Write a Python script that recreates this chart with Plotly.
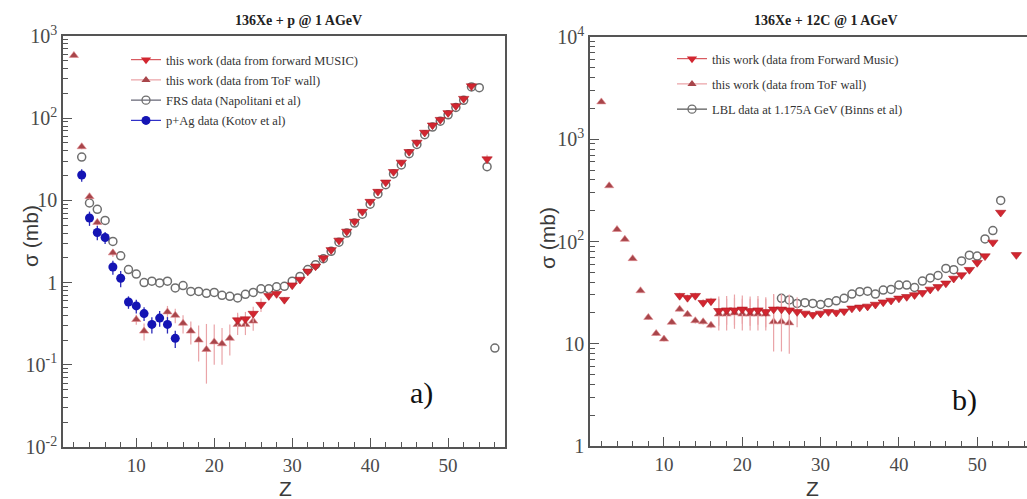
import plotly.graph_objects as go

# ---------------- 136Xe + p @ 1 AGeV ----------------
z_music_p = [23, 24, 25, 26, 27, 28, 29, 30, 31, 32, 33, 34, 35, 36, 37, 38, 39, 40,
             41, 42, 43, 44, 45, 46, 47, 48, 49, 50, 51, 52, 53, 55]
sig_music_p = [0.35, 0.36, 0.42, 0.54, 0.69, 0.73, 0.62, 0.93, 1.09, 1.37, 1.58, 1.99, 2.5,
               3.26, 4.19, 5.53, 7.31, 9.67, 12.8, 16.6, 22.3, 29.0, 39.0, 50.7, 67.0, 82.0,
               96.0, 116.0, 141.0, 173.0, 246.0, 31.8]
err_music_p = [0.08, 0.08, 0.09, 0.1, 0.08, 0.06, 0.05, 0.05, 0.05, 0.05, 0.05, 0.06, 0.07,
               0.08, 0.1, 0.12, 0.15, 0.2, 0.25, 0.3, 0.4, 0.5, 0.7, 0.9, 1.2, 1.5, 1.8, 2.2,
               2.6, 3.2, 5.0, 4.0]

z_tof_p = [2, 3, 4, 5, 7, 10, 11, 14, 15, 16, 17, 18, 19, 20, 21, 22, 23, 24, 25]
sig_tof_p = [580.0, 45.0, 11.1, 5.4, 2.3, 0.356, 0.257, 0.44, 0.40, 0.32, 0.257, 0.20, 0.154,
             0.19, 0.18, 0.21, 0.31, 0.31, 0.34]
err_up_tof_p = [20.0, 3.0, 1.0, 0.6, 0.25, 0.05, 0.06, 0.08, 0.08, 0.08, 0.08, 0.10, 0.16,
                0.12, 0.10, 0.10, 0.10, 0.08, 0.08]
err_dn_tof_p = [20.0, 3.0, 1.0, 0.6, 0.25, 0.05, 0.06, 0.08, 0.08, 0.08, 0.08, 0.09, 0.095,
                0.09, 0.08, 0.08, 0.08, 0.08, 0.08]

z_frs_p = list(range(3, 54)) + [54, 55, 56]
sig_frs_p = [33.7, 9.3, 7.8, 5.7, 3.17, 2.12, 1.44, 1.27, 1.0, 1.04, 0.99, 1.04, 0.86, 0.92,
             0.78, 0.78, 0.74, 0.76, 0.70, 0.68, 0.65, 0.72, 0.76, 0.84, 0.84, 0.89, 0.90,
             1.04, 1.19, 1.44, 1.65, 1.95, 2.4, 3.1, 4.0, 5.3, 6.8, 9.0, 12.0, 15.5, 21.0,
             27.0, 37.0, 48.0, 63.0, 78.0, 92.0, 110.0, 135.0, 165.0, 240.0,
             235.0, 25.7, 0.16]

z_kotov = [3, 4, 5, 6, 7, 8, 9, 10, 11, 12, 13, 14, 15]
sig_kotov = [20.4, 6.1, 4.07, 3.54, 1.55, 1.13, 0.58, 0.52, 0.42, 0.31, 0.37, 0.31, 0.21]
err_kotov = [3.5, 1.2, 0.8, 0.6, 0.3, 0.25, 0.1, 0.1, 0.08, 0.07, 0.08, 0.07, 0.05]

# ---------------- 136Xe + 12C @ 1 AGeV ----------------
z_music_c = list(range(12, 54)) + [55]
sig_music_c = [29.5, 28.2, 29.5, 25.2, 26.1, 21.0, 21.3, 21.3, 21.7, 21.0, 21.3, 20.5, 21.7,
               21.7, 21.3, 20.5, 19.8, 19.2, 19.8, 20.5, 20.2, 20.8, 22.2, 22.7, 23.2, 24.2,
               25.5, 26.5, 27.8, 28.8, 30.0, 31.5, 34.0, 36.0, 39.0, 43.5, 47.0, 53.0, 62.0,
               72.0, 98.0, 192.0, 74.0]
err_up_music_c = [2.0, 2.0, 2.0, 2.0, 2.0, 8.0, 8.0, 9.0, 8.0, 8.0, 8.0, 8.0, 9.0, 9.0, 9.0,
                  8.0, 1.0, 1.0, 1.0, 1.0, 1.0, 1.0, 1.0, 1.0, 1.0, 1.0, 1.0, 1.0, 1.0, 1.0,
                  1.0, 1.0, 1.0, 1.0, 1.0, 1.0, 1.0, 1.0, 2.0, 2.0, 3.0, 5.0, 3.0]
err_dn_music_c = [2.0, 2.0, 2.0, 2.0, 2.0, 6.0, 6.0, 6.0, 6.0, 6.0, 6.0, 6.0, 6.0, 6.0, 6.0,
                  6.0, 1.0, 1.0, 1.0, 1.0, 1.0, 1.0, 1.0, 1.0, 1.0, 1.0, 1.0, 1.0, 1.0, 1.0,
                  1.0, 1.0, 1.0, 1.0, 1.0, 1.0, 1.0, 1.0, 2.0, 2.0, 3.0, 5.0, 3.0]

z_tof_c = list(range(2, 27))
sig_tof_c = [2320.0, 351.0, 131.0, 105.0, 68.0, 33.0, 18.1, 12.6, 11.1, 16.2, 21.8, 19.4,
             16.8, 16.4, 15.2, 19.5, 19.5, 20.0, 19.5, 19.5, 19.5, 19.5, 16.4, 16.4, 16.0]
err_up_tof_c = [60.0, 10.0, 4.0, 3.0, 2.0, 1.0, 0.8, 0.6, 0.6, 0.8, 1.0, 1.0, 1.0, 1.0, 1.0,
                8.0, 8.0, 8.0, 8.0, 8.0, 8.0, 8.0, 14.0, 14.0, 14.0]
err_dn_tof_c = [60.0, 10.0, 4.0, 3.0, 2.0, 1.0, 0.8, 0.6, 0.6, 0.8, 1.0, 1.0, 1.0, 1.0, 1.0,
                6.0, 6.0, 6.0, 6.0, 6.0, 6.0, 6.0, 8.0, 8.0, 8.0]

z_lbl = list(range(25, 54))
sig_lbl = [27.8, 26.8, 24.8, 25.2, 24.8, 24.2, 25.2, 26.3, 27.8, 30.6, 32.3, 32.7, 30.6,
           33.5, 34.0, 37.5, 37.5, 35.5, 41.0, 44.0, 46.5, 54.5, 53.0, 64.6, 73.5, 72.0,
           106.0, 128.0, 252.0]

labels_p = ["this work (data from forward MUSIC)", "this work (data from ToF wall)",
            "FRS data (Napolitani et al)", "p+Ag data (Kotov et al)"]
labels_c = ["this work (data from Forward Music)", "this work (data from ToF wall)",
            "LBL data at 1.175A GeV (Binns et al)"]

# styles
RED = "#d22630"
TOF = "#a8454a"
ERR_PINK = "#eaa4a8"
GREY = "#6e6e6e"
BLUE = "#1414b4"
SERIF = "Liberation Serif"
SANS = "Liberation Sans"

W, H = 1027, 499
fig = go.Figure()


def music(x, y, up, dn, xa, ya):
    return go.Scatter(x=x, y=y, xaxis=xa, yaxis=ya, mode="markers", showlegend=False,
                      marker=dict(symbol="triangle-down", size=9, color=RED,
                                  line=dict(width=0.6, color="#b01820")),
                      error_y=dict(type="data", array=up, arrayminus=dn, color=ERR_PINK,
                                   thickness=1.2, width=0))


def tof(x, y, up, dn, xa, ya):
    return go.Scatter(x=x, y=y, xaxis=xa, yaxis=ya, mode="markers", showlegend=False,
                      marker=dict(symbol="triangle-up", size=8, color=TOF,
                                  line=dict(width=0.6, color="#e08a8e")),
                      error_y=dict(type="data", array=up, arrayminus=dn, color=ERR_PINK,
                                   thickness=1.2, width=0))


def opencirc(x, y, xa, ya):
    return go.Scatter(x=x, y=y, xaxis=xa, yaxis=ya, mode="markers", showlegend=False,
                      marker=dict(symbol="circle-open", size=8, color=GREY,
                                  line=dict(width=1.5, color=GREY)))


# left panel
fig.add_trace(opencirc(z_frs_p, sig_frs_p, "x", "y"))
fig.add_trace(tof(z_tof_p, sig_tof_p, err_up_tof_p, err_dn_tof_p, "x", "y"))
fig.add_trace(music(z_music_p, sig_music_p, err_music_p, err_music_p, "x", "y"))
fig.add_trace(go.Scatter(x=z_kotov, y=sig_kotov, xaxis="x", yaxis="y", mode="markers",
                         showlegend=False,
                         marker=dict(symbol="circle", size=9, color=BLUE),
                         error_y=dict(type="data", array=err_kotov, color="#2a2ab8",
                                      thickness=1.3, width=0)))

# right panel
fig.add_trace(opencirc(z_lbl, sig_lbl, "x2", "y2"))
fig.add_trace(tof(z_tof_c, sig_tof_c, err_up_tof_c, err_dn_tof_c, "x2", "y2"))
fig.add_trace(music(z_music_c, sig_music_c, err_up_music_c, err_dn_music_c, "x2", "y2"))

# legend keys (line + marker)
key_styles_p = [
    (dict(symbol="triangle-down", size=9, color=RED), "#d85a60"),
    (dict(symbol="triangle-up", size=8, color=TOF), "#eba0a4"),
    (dict(symbol="circle-open", size=8, color=GREY, line=dict(width=1.3, color=GREY)), "#606070"),
    (dict(symbol="circle", size=9, color=BLUE), "#3030c8"),
]
for i, (lab, (mk, lc)) in enumerate(zip(labels_p, key_styles_p)):
    fig.add_trace(go.Scatter(x=[None], y=[None], xaxis="x", yaxis="y", mode="lines+markers",
                             name=lab, marker=mk, line=dict(color=lc, width=1.2),
                             legend="legend", legendgroup="p%d" % i))
key_styles_c = key_styles_p[:2] + [(dict(symbol="circle-open", size=8, color=GREY,
                                         line=dict(width=1.3, color=GREY)), "#505050")]
for i, (lab, (mk, lc)) in enumerate(zip(labels_c, key_styles_c)):
    fig.add_trace(go.Scatter(x=[None], y=[None], xaxis="x2", yaxis="y2", mode="lines+markers",
                             name=lab, marker=mk, line=dict(color=lc, width=1.2),
                             legend="legend2", legendgroup="c%d" % i))


def minor_log(lo, hi):
    return [m * 10 ** k for k in range(lo, hi) for m in range(2, 10)]


def sup_labels(lo, hi):
    out = []
    for k in range(lo, hi + 1):
        if k == 0:
            out.append("1")
        elif k == 1:
            out.append("10")
        else:
            out.append("10<sup>%d</sup>" % k)
    return out


AX = "#555555"
xcommon = dict(showline=True, linecolor=AX, linewidth=1.6, ticks="inside", ticklen=9,
               tickwidth=1.2, tickcolor=AX, tickvals=[10, 20, 30, 40, 50],
               tickfont=dict(family=SERIF, size=19, color="#4a4a4a"), showgrid=False,
               zeroline=False, automargin=False,
               minor=dict(ticks="inside", ticklen=5, tickwidth=1, tickcolor=AX,
                          tickvals=[2, 4, 6, 8, 12, 14, 16, 18, 22, 24, 26, 28, 32, 34, 36, 38,
                                    42, 44, 46, 48, 52, 54, 56], showgrid=False))
ycommon = dict(type="log", showline=True, linecolor=AX, linewidth=1.6, ticks="inside",
               ticklen=9, tickwidth=1.2, tickcolor=AX, showgrid=False, zeroline=False,
               automargin=False,
               tickfont=dict(family=SERIF, size=20, color="#4a4a4a"))


def note(text, x, y, font, angle=0):
    return dict(text=text, x=x / W, y=1 - y / H, xref="paper", yref="paper",
                xanchor="center", yanchor="middle", showarrow=False, textangle=angle,
                font=font)


fig.update_layout(
    width=W, height=H, margin=dict(l=0, r=0, t=0, b=0, autoexpand=False),
    paper_bgcolor="white", plot_bgcolor="white",
    xaxis=dict(domain=[63 / W, 505 / W], range=[0.6, 57.3], anchor="y", mirror=True,
               **xcommon),
    yaxis=dict(domain=[1 - 447 / H, 1 - 36 / H], range=[-2, 3], anchor="x", mirror=True,
               tickvals=[10 ** k for k in range(-2, 4)], ticktext=sup_labels(-2, 3),
               minor=dict(ticks="inside", ticklen=5, tickwidth=1, tickcolor=AX,
                          tickvals=minor_log(-2, 3), showgrid=False),
               **ycommon),
    xaxis2=dict(domain=[590 / W, 1.0], range=[0.55, 56.36], anchor="y2", mirror=True,
                **xcommon),
    yaxis2=dict(domain=[1 - 446 / H, 1 - 37 / H], range=[0, 4], anchor="x2", mirror=False,
                tickvals=[10 ** k for k in range(0, 5)], ticktext=sup_labels(0, 4),
                minor=dict(ticks="inside", ticklen=5, tickwidth=1, tickcolor=AX,
                           tickvals=minor_log(0, 4), showgrid=False),
                **ycommon),
    legend=dict(x=126 / W, y=1 - 45 / H, xanchor="left", yanchor="top",
                bgcolor="rgba(0,0,0,0)", traceorder="grouped", tracegroupgap=1,
                font=dict(family=SERIF, size=12.5, color="#333333")),
    legend2=dict(x=672 / W, y=1 - 44 / H, xanchor="left", yanchor="top",
                 bgcolor="rgba(0,0,0,0)", traceorder="grouped", tracegroupgap=6,
                 font=dict(family=SERIF, size=12.5, color="#333333")),
    annotations=[
        note("<b>136Xe + p @ 1 AGeV</b>", 298, 20, dict(family=SERIF, size=14, color="#222")),
        note("<b>136Xe + 12C @ 1 AGeV</b>", 826, 20, dict(family=SERIF, size=14, color="#222")),
        note("σ (mb)", 30, 236, dict(family=SANS, size=21, color="#3a3a3a"), -90),
        note("σ (mb)", 547, 238, dict(family=SANS, size=21, color="#3a3a3a"), -90),
        note("Z", 285, 488, dict(family=SANS, size=21, color="#3a3a3a")),
        note("Z", 812, 488, dict(family=SANS, size=21, color="#3a3a3a")),
        note("a)", 421, 393, dict(family=SERIF, size=30, color="#111")),
        note("b)", 964, 400, dict(family=SERIF, size=30, color="#111")),
    ],
)

fig.write_html("out.html")
